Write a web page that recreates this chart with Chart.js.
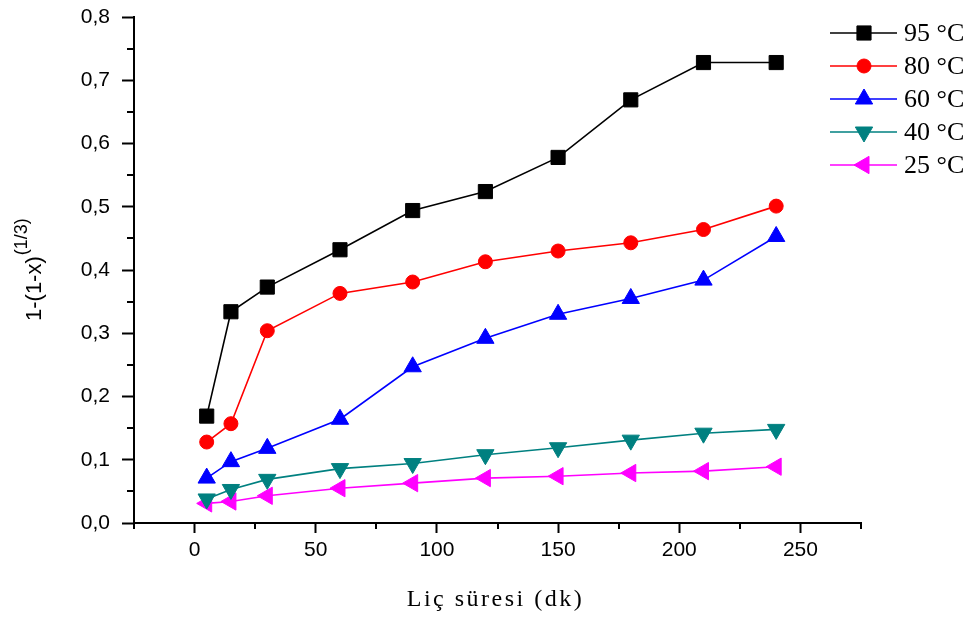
<!DOCTYPE html>
<html>
<head>
<meta charset="utf-8">
<script src="https://cdn.jsdelivr.net/npm/chart.js@4/dist/chart.umd.min.js"></script>
<style>
  html, body { margin: 0; padding: 0; background: #fff; }
  canvas { display: block; }
</style>
</head>
<body>
<canvas id="chart" width="977" height="617"></canvas>
<script>
// leaching time (min)
const times = [5, 15, 30, 60, 90, 120, 150, 180, 210, 240];

// 1-(1-x)^(1/3) per temperature
const t95 = [0.169, 0.334, 0.373, 0.432, 0.494, 0.524, 0.578, 0.669, 0.728, 0.728];
const t80 = [0.128, 0.157, 0.304, 0.363, 0.381, 0.413, 0.430, 0.443, 0.464, 0.501];
const t60 = [0.071, 0.097, 0.118, 0.164, 0.247, 0.292, 0.330, 0.355, 0.384, 0.453];
const t40 = [0.038, 0.053, 0.069, 0.086, 0.094, 0.108, 0.119, 0.131, 0.142, 0.148];
const t25 = [0.031, 0.034, 0.043, 0.055, 0.063, 0.071, 0.074, 0.079, 0.082, 0.089];

const seriesLabels = ['95 °C', '80 °C', '60 °C', '40 °C', '25 °C'];

const xTicks = [0, 50, 100, 150, 200, 250];
const xMinor = [-25, 25, 75, 125, 175, 225, 275];
const yMinor = [0.05, 0.15, 0.25, 0.35, 0.45, 0.55, 0.65, 0.75];

function makeSet(label, values, color, style, radius, rotation) {
    return {
        label: label,
        data: times.map((t, i) => ({ x: t, y: values[i] })),
        borderColor: color,
        backgroundColor: color,
        borderWidth: 1.6,
        pointStyle: style,
        pointRadius: radius,
        pointRotation: rotation,
        pointBorderWidth: 1,
        pointBackgroundColor: color,
        pointBorderColor: color,
        tension: 0,
        clip: false
    };
}

const datasets = [
    makeSet(seriesLabels[0], t95, '#000000', 'rect', 10, 0),
    makeSet(seriesLabels[1], t80, '#ff0000', 'circle', 7, 0),
    makeSet(seriesLabels[2], t60, '#0000ff', 'triangle', 10, 0),
    makeSet(seriesLabels[3], t40, '#008080', 'triangle', 10, 180),
    makeSet(seriesLabels[4], t25, '#ff00ff', 'triangle', 10, -90)
];

// extras: minor ticks, axis titles and the legend
const extras = {
    id: 'extras',
    afterDraw(chart) {
        const ctx = chart.ctx;
        const xs = chart.scales.x, ys = chart.scales.y;
        const area = chart.chartArea;

        ctx.save();
        ctx.strokeStyle = '#000';
        ctx.lineWidth = 2;
        xMinor.forEach(v => {
            const px = Math.round(xs.getPixelForValue(v));
            ctx.beginPath();
            ctx.moveTo(px, area.bottom);
            ctx.lineTo(px, area.bottom + 6);
            ctx.stroke();
        });
        yMinor.forEach(v => {
            const py = Math.round(ys.getPixelForValue(v));
            ctx.beginPath();
            ctx.moveTo(area.left - 7, py);
            ctx.lineTo(area.left, py);
            ctx.stroke();
        });

        // x title
        ctx.fillStyle = '#000';
        ctx.font = '24px "Liberation Serif"';
        ctx.letterSpacing = '2.5px';
        ctx.textAlign = 'center';
        ctx.textBaseline = 'middle';
        ctx.fillText('Liç süresi (dk)', (area.left + area.right) / 2 - 2, 600);
        ctx.letterSpacing = '0px';

        // y title with superscript
        ctx.save();
        ctx.translate(41, 321);
        ctx.rotate(-Math.PI / 2);
        ctx.textAlign = 'left';
        ctx.textBaseline = 'alphabetic';
        ctx.font = '22px "Liberation Sans"';
        ctx.fillText('1-(1-x)', 0, 0);
        const w = ctx.measureText('1-(1-x)').width;
        ctx.font = '18px "Liberation Sans"';
        ctx.fillText('(1/3)', w + 1, -14);
        ctx.restore();

        // legend
        chart.data.datasets.forEach((ds, i) => {
            const y = 33 + 33 * i;
            ctx.strokeStyle = ds.borderColor;
            ctx.lineWidth = 1.6;
            ctx.beginPath();
            ctx.moveTo(830, y);
            ctx.lineTo(897, y);
            ctx.stroke();
            ctx.fillStyle = ds.borderColor;
            ctx.lineWidth = 1;
            Chart.helpers.drawPoint(ctx, {
                pointStyle: ds.pointStyle,
                radius: ds.pointRadius,
                rotation: ds.pointRotation,
                borderWidth: 1
            }, 864, y);
            ctx.fillStyle = '#000';
            ctx.font = '26px "Liberation Serif"';
            ctx.textAlign = 'left';
            ctx.textBaseline = 'middle';
            ctx.fillText(ds.label, 904, y + 1);
        });
        ctx.restore();
    }
};

new Chart(document.getElementById('chart'), {
    type: 'line',
    data: { datasets: datasets },
    options: {
        responsive: false,
        animation: false,
        devicePixelRatio: 1,
        layout: { autoPadding: false, padding: { left: 0, right: 116, top: 17, bottom: 0 } },
        plugins: {
            legend: { display: false },
            tooltip: { enabled: false }
        },
        scales: {
            x: {
                type: 'linear',
                min: -25,
                max: 275,
                afterBuildTicks: scale => { scale.ticks = xTicks.map(v => ({ value: v })); },
                afterFit: scale => {
                    scale.height = 94;
                    scale.paddingLeft = 0;
                    scale.paddingRight = 0;
                },
                grid: { drawOnChartArea: false, drawTicks: true, tickLength: 10, tickWidth: 2, tickColor: '#000' },
                border: { color: '#000', width: 2 },
                ticks: {
                    padding: 5,
                    color: '#000',
                    font: { family: '"Liberation Sans"', size: 21 },
                    maxRotation: 0
                }
            },
            y: {
                min: 0,
                max: 0.8,
                afterFit: scale => {
                    scale.width = 134;
                    scale.paddingTop = 0;
                    scale.paddingBottom = 0;
                },
                grid: { drawOnChartArea: false, drawTicks: true, tickLength: 12, tickWidth: 2, tickColor: '#000' },
                border: { color: '#000', width: 2 },
                ticks: {
                    stepSize: 0.1,
                    padding: 12,
                    color: '#000',
                    font: { family: '"Liberation Sans"', size: 21 },
                    callback: v => v.toFixed(1).replace('.', ',')
                }
            }
        }
    },
    plugins: [extras]
});
</script>
</body>
</html>
